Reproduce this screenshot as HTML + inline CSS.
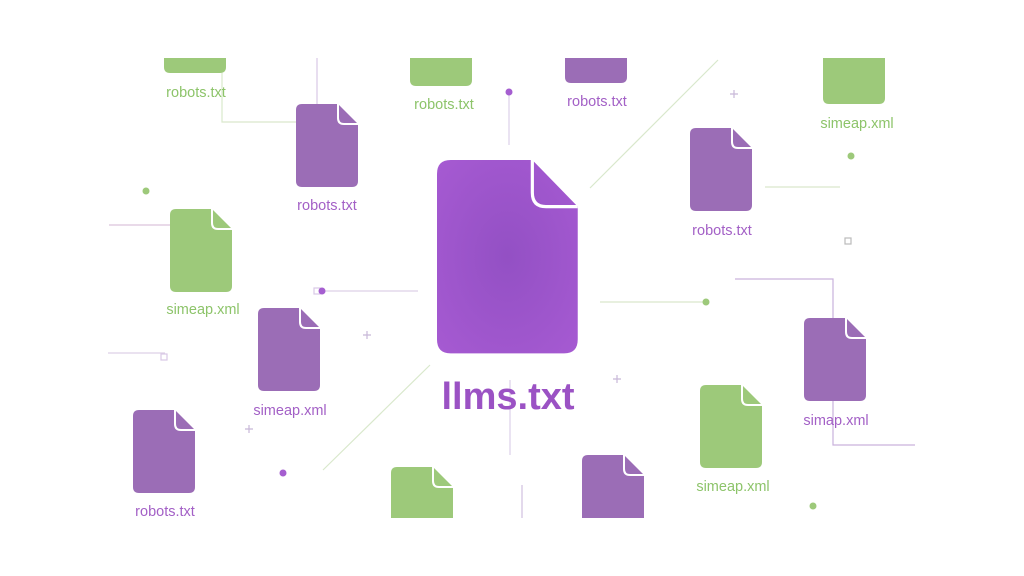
<!DOCTYPE html>
<html><head><meta charset="utf-8"><style>
html,body{margin:0;padding:0;background:#fff;width:1024px;height:576px;overflow:hidden}
text{font-family:"Liberation Sans",sans-serif}
</style></head><body>
<svg width="1024" height="576" viewBox="0 0 1024 576" xmlns="http://www.w3.org/2000/svg">
<defs>
<radialGradient id="bg" cx="0.5" cy="0.5" r="0.7"><stop offset="0" stop-color="#9350c4"/><stop offset="1" stop-color="#a65ad2"/></radialGradient>
<g id="doc">
<path d="M6,0 H42 L62,20 V77 Q62,83 56,83 H6 Q0,83 0,77 V6 Q0,0 6,0 Z"/>
<path d="M42,0 V14 Q42,20 48,20 H62" fill="none" stroke="#fff" stroke-width="2"/>
</g>
<clipPath id="c"><rect x="0" y="58" width="1024" height="460"/></clipPath>
</defs>
<g stroke-width="1.2" fill="none">
<path d="M317,58 V104" stroke="#d8c8e6"/>
<path d="M222,73 V122 H296" stroke="#d9e8cc"/>
<path d="M590,188 L718,60" stroke="#d9e8cc"/>
<path d="M323,470 L430,365" stroke="#d9e8cc"/>
<path d="M509,92 V145" stroke="#ddd0e8"/>
<path d="M109,225 H170" stroke="#dcc4dc"/>
<path d="M322,291 H418" stroke="#ddd0e8"/>
<path d="M600,302 H706" stroke="#d9e8cc"/>
<path d="M735,279 H833 V445 H915" stroke="#c9b2dc"/>
<path d="M108,353 H165" stroke="#ddd0e8"/>
<path d="M765,187 H840" stroke="#d9e8cc"/>
<path d="M510,380 V455" stroke="#ddd0e8"/>
<path d="M522,485 V518" stroke="#d0bfe0"/>
<rect x="845" y="238" width="6" height="6" stroke="#bbb"/>
<rect x="161" y="354" width="6" height="6" stroke="#d8c8e6"/>
<rect x="314" y="288" width="6" height="6" stroke="#d8c8e6"/>
<path d="M730,94 h8 M734,90 v8 M363,335 h8 M367,331 v8 M613,379 h8 M617,375 v8 M245,429 h8 M249,425 v8" stroke="#c8b8d8"/>
</g>
<g>
<circle cx="509" cy="92" r="3.5" fill="#a55ed0"/>
<circle cx="146" cy="191" r="3.5" fill="#9dc97a"/>
<circle cx="851" cy="156" r="3.5" fill="#9dc97a"/>
<circle cx="322" cy="291" r="3.5" fill="#a55ed0"/>
<circle cx="706" cy="302" r="3.5" fill="#9dc97a"/>
<circle cx="283" cy="473" r="3.5" fill="#a55ed0"/>
<circle cx="813" cy="506" r="3.5" fill="#9dc97a"/>
</g>
<g clip-path="url(#c)">
<g fill="#9b6db6">
<use href="#doc" x="296" y="104"/>
<use href="#doc" x="690" y="128"/>
<use href="#doc" x="258" y="308"/>
<use href="#doc" x="133" y="410"/>
<use href="#doc" x="804" y="318"/>
<use href="#doc" x="582" y="455"/>
<use href="#doc" x="565" y="0"/>
</g>
<g fill="#9dc97a">
<use href="#doc" x="164" y="-10"/>
<use href="#doc" x="410" y="3"/>
<use href="#doc" x="823" y="21"/>
<use href="#doc" x="170" y="209"/>
<use href="#doc" x="700" y="385"/>
<use href="#doc" x="391" y="467"/>
</g>
</g>
<g transform="translate(437,160) scale(2.27,2.33)" fill="url(#bg)">
<path d="M6,0 H42 L62,20 V77 Q62,83 56,83 H6 Q0,83 0,77 V6 Q0,0 6,0 Z"/>
<path d="M42,0 V14 Q42,20 48,20 H62" fill="none" stroke="#fff" stroke-width="1.4"/>
</g>
<g font-size="14.5" text-anchor="middle" fill="#a360c6">
<text x="327" y="210">robots.txt</text>
<text x="722" y="235">robots.txt</text>
<text x="290" y="415">simeap.xml</text>
<text x="165" y="516">robots.txt</text>
<text x="836" y="425">simap.xml</text>
<text x="597" y="106">robots.txt</text>
</g>
<g font-size="14.5" text-anchor="middle" fill="#8dc46a">
<text x="196" y="97">robots.txt</text>
<text x="444" y="109">robots.txt</text>
<text x="857" y="128">simeap.xml</text>
<text x="203" y="314">simeap.xml</text>
<text x="733" y="491">simeap.xml</text>
</g>
<text x="508" y="409" font-size="38" font-weight="bold" text-anchor="middle" fill="#9b52c4">llms.txt</text>
</svg>
</body></html>
